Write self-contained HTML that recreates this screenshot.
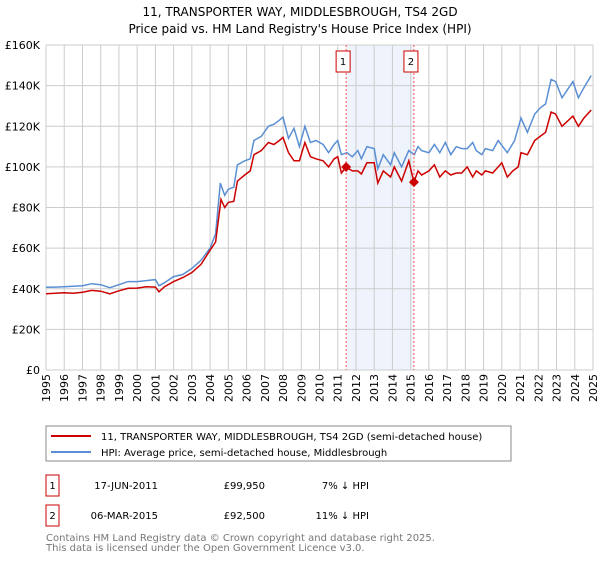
<!DOCTYPE html>
<html><head><meta charset="utf-8"><style>
body{margin:0;background:#fff;font-family:"DejaVu Sans","Liberation Sans",sans-serif;}
svg text{font-family:"DejaVu Sans","Liberation Sans",sans-serif;}
</style></head><body>
<svg id="c" width="600" height="560" xmlns="http://www.w3.org/2000/svg">
<text x="300" y="16" font-size="12" text-anchor="middle">11, TRANSPORTER WAY, MIDDLESBROUGH, TS4 2GD</text>
<text x="300" y="33" font-size="12" text-anchor="middle">Price paid vs. HM Land Registry's House Price Index (HPI)</text>
<g id="grid"></g>
<g id="plot"></g>
<g id="axes"></g>
<g>
<rect x="46" y="426" width="465" height="35" fill="#fff" stroke="#888"/>
<line x1="51" y1="436" x2="91" y2="436" stroke="#cc0000" stroke-width="2"/>
<text x="101" y="440" font-size="10">11, TRANSPORTER WAY, MIDDLESBROUGH, TS4 2GD (semi-detached house)</text>
<line x1="51" y1="452" x2="91" y2="452" stroke="#5b8fd4" stroke-width="2"/>
<text x="101" y="456" font-size="10">HPI: Average price, semi-detached house, Middlesbrough</text>
</g>
<g font-size="10">
<rect x="46" y="475" width="13" height="21" fill="#fff" stroke="#cc0000"/>
<text x="52.5" y="489" text-anchor="middle">1</text>
<text x="158" y="489" text-anchor="end">17-JUN-2011</text>
<text x="265" y="489" text-anchor="end">£99,950</text>
<text x="369" y="489" text-anchor="end">7% ↓ HPI</text>
<rect x="46" y="505" width="13" height="21" fill="#fff" stroke="#cc0000"/>
<text x="52.5" y="519" text-anchor="middle">2</text>
<text x="158" y="519" text-anchor="end">06-MAR-2015</text>
<text x="265" y="519" text-anchor="end">£92,500</text>
<text x="369" y="519" text-anchor="end">11% ↓ HPI</text>
</g>
<text x="46" y="541" font-size="10" fill="#777">Contains HM Land Registry data © Crown copyright and database right 2025.</text>
<text x="46" y="551" font-size="10" fill="#777">This data is licensed under the Open Government Licence v3.0.</text>
</svg>
<script>
const hpiYears=[1995,1995.5,1996,1996.5,1997,1997.5,1998,1998.5,1999,1999.5,2000,2000.5,2001,2001.2,2001.5,2002,2002.5,2003,2003.5,2004,2004.3,2004.56,2004.8,2005,2005.3,2005.5,2005.9,2006.2,2006.4,2006.8,2007.2,2007.5,2007.8,2008,2008.3,2008.6,2008.9,2009.2,2009.5,2009.8,2010.2,2010.5,2010.8,2011,2011.2,2011.5,2011.8,2012.1,2012.3,2012.6,2013,2013.2,2013.5,2013.9,2014.1,2014.5,2014.9,2015.2,2015.4,2015.6,2016,2016.3,2016.6,2016.9,2017.2,2017.5,2017.8,2018.1,2018.4,2018.6,2018.9,2019.1,2019.5,2019.8,2020.3,2020.7,2021.05,2021.4,2021.8,2022.1,2022.4,2022.7,2022.95,2023.3,2023.9,2024.2,2024.5,2024.9];
const hpiValues=[40.7,40.8,41,41.2,41.5,42.5,42,40.5,42,43.5,43.5,44,44.5,41.5,43,46,47,50,54,60,67,92,86,89,90,101,103,104,113,115,120,121,123,124.5,114,119,110,120,112,113,111,107,111,113,106,107,105,108,104,110,109,99,106,101,107,100,108,106,110,108,107,111,107,112,106,110,109,109,112,108,106,109,108,113,107,113,124,117,126,129,131,143,142,134,142,134,139,145];
const ppYears=[1995,1995.5,1996,1996.5,1997,1997.5,1998,1998.5,1999,1999.5,2000,2000.5,2001,2001.2,2001.5,2002,2002.5,2003,2003.5,2004,2004.3,2004.6,2004.8,2005,2005.3,2005.5,2005.9,2006.2,2006.4,2006.8,2007.2,2007.5,2007.8,2008,2008.3,2008.6,2008.9,2009.2,2009.5,2009.8,2010.2,2010.5,2010.8,2011,2011.2,2011.46,2011.8,2012.1,2012.3,2012.6,2013,2013.2,2013.5,2013.9,2014.1,2014.5,2014.9,2015.18,2015.4,2015.6,2016,2016.3,2016.6,2016.9,2017.2,2017.5,2017.8,2018.1,2018.4,2018.6,2018.9,2019.1,2019.5,2019.8,2020,2020.3,2020.6,2020.9,2021.05,2021.4,2021.8,2022.1,2022.4,2022.7,2022.95,2023.3,2023.9,2024.2,2024.5,2024.9];
const ppValues=[37.5,37.8,38,37.8,38.3,39.2,38.8,37.5,39,40.2,40.3,41,40.8,38.5,41,43.5,45.5,48,52,59,63,84,80,82.5,83,93,96,98,106,108,112,111,113,114.5,107,103,103,112,105,104,103,100,104,105,97,99.95,98,98,96.5,102,102,92,98,95,100,93,103,92.5,98,96,98,101,95,98,96,97,97,100,95,98,96,98,97,100,102,95,98,100,107,106,113,115,117,127,126,120,125,120,124,128];
const saleYears=[2011.46,2015.18];
const saleValues=[99.95,92.5];
const saleLabels=["1","2"];
const yTicks=[0,20,40,60,80,100,120,140,160];
const xTicks=[1995,1996,1997,1998,1999,2000,2001,2002,2003,2004,2005,2006,2007,2008,2009,2010,2011,2012,2013,2014,2015,2016,2017,2018,2019,2020,2021,2022,2023,2024,2025];
const X0=46,X1=593,Y0=370,Y1=45;
const xs=y=>X0+(y-1995)/30*(X1-X0);
const ys=v=>Y0-v/160*(Y0-Y1);
const NS="http://www.w3.org/2000/svg";
function mk(t,a,p){const e=document.createElementNS(NS,t);for(const k in a)e.setAttribute(k,a[k]);p.appendChild(e);return e;}
const grid=document.getElementById('grid'),plot=document.getElementById('plot'),axes=document.getElementById('axes');
const sh=mk('rect',{x:xs(saleYears[0]),y:Y1,width:xs(saleYears[1])-xs(saleYears[0]),height:Y0-Y1,fill:'#eef3fc'},grid);


xTicks.forEach(t=>{
 const l=mk('line',{x1:xs(t),x2:xs(t),y1:Y1,y2:Y0,stroke:'#ccc'},grid);
 
 
 const tx=mk('text',{x:0,y:0,'font-size':11,'text-anchor':'end',transform:`translate(${xs(t)+4},${Y0+4}) rotate(-90)`},axes);
 tx.textContent=t;
 
 
});
yTicks.forEach(t=>{
 const l=mk('line',{x1:X0,x2:X1,y1:ys(t),y2:ys(t),stroke:'#ccc'},grid);
 
 
 const tx=mk('text',{x:X0-6,y:ys(t)+4,'font-size':11,'text-anchor':'end'},axes);
 tx.textContent='£'+(t===0?'0':t+'K');
 
 
});
const pts=(ys_,vs)=>ys_.map((y,i)=>xs(y).toFixed(1)+','+ys(vs[i]).toFixed(1)).join(' ');
const hl=mk('polyline',{points:pts(hpiYears,hpiValues),fill:'none',stroke:'#5b8fd4','stroke-width':1.5},plot);


const pl=mk('polyline',{points:pts(ppYears,ppValues),fill:'none',stroke:'#cc0000','stroke-width':1.5},plot);


saleYears.forEach((y,i)=>{
 const x=xs(y);
 const dl=mk('line',{x1:x,x2:x,y1:Y1,y2:Y0,stroke:'#f55','stroke-dasharray':'2,2'},plot);
 
 
 const yy=ys(saleValues[i]);
 const d=mk('polygon',{points:`${x},${yy-5} ${x+5},${yy} ${x},${yy+5} ${x-5},${yy}`,fill:'#cc0000'},plot);
 
 
 const b=mk('rect',{x:x-10,y:51,width:14,height:21,fill:'#fff',stroke:'#cc0000'},plot);
 
 
 const t=mk('text',{x:x-3,y:65,'font-size':10,'text-anchor':'middle'},plot);
 t.textContent=saleLabels[i];
 
 
});
</script>
</body></html>
